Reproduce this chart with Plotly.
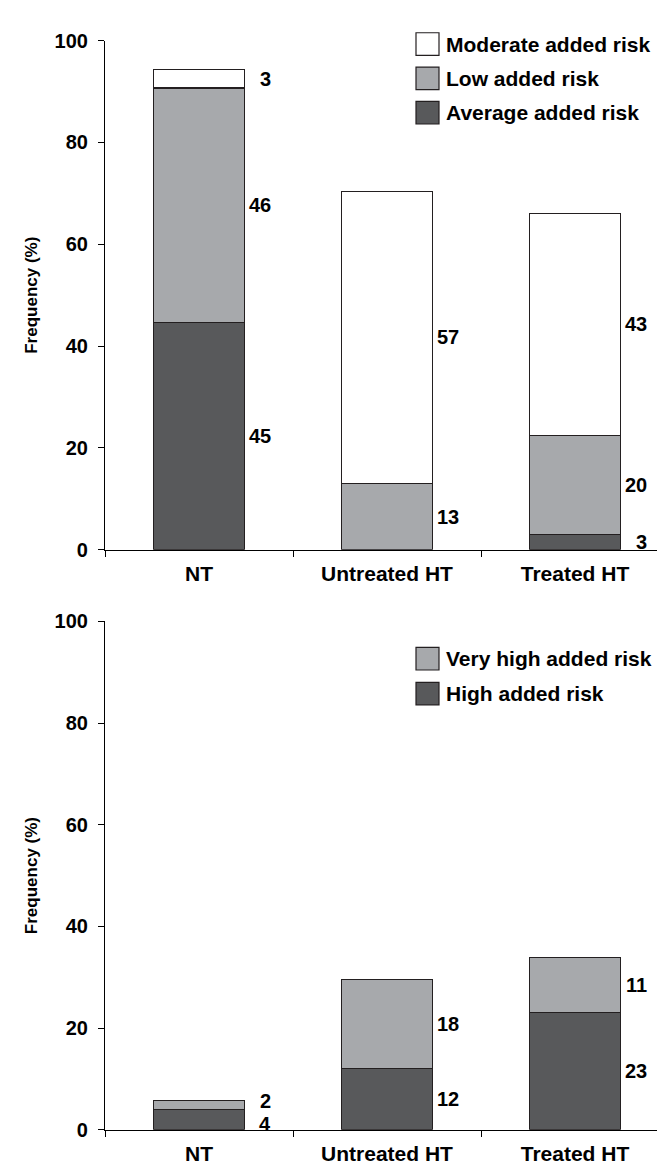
import plotly.graph_objects as go

categories = ["NT", "Untreated HT", "Treated HT"]

# Top panel (stacked, %)
top_average = [44.6, None, 3.0]
top_low = [46.1, 13.0, 19.5]
top_moderate = [3.6, 57.4, 43.6]
top_average_lbl = ["45", "", "3"]
top_low_lbl = ["46", "13", "20"]
top_moderate_lbl = ["3", "57", "43"]

# Bottom panel (stacked, %)
bot_high = [4.0, 12.0, 23.0]
bot_very_high = [1.8, 17.6, 10.9]
bot_high_lbl = ["4", "12", "23"]
bot_very_high_lbl = ["2", "18", "11"]

yticks = [0, 20, 40, 60, 80, 100]

W, H = 665, 1169
DARK = "#58595b"
LIGHT = "#a7a9ac"
WHITE = "#ffffff"
EDGE = "#231f20"
FONT = "Liberation Sans"
BW = 0.48

def px(x):
    return x / W

def py(y):
    return 1 - y / H

fig = go.Figure()

def add_bar(vals, color, name, xa, ya):
    fig.add_trace(go.Bar(
        x=categories, y=vals, name=name, marker=dict(color=color, line=dict(color=EDGE, width=1.2)),
        width=BW, xaxis=xa, yaxis=ya, showlegend=False, hoverinfo="skip"))

add_bar(top_average, DARK, "Average added risk", "x", "y")
add_bar(top_low, LIGHT, "Low added risk", "x", "y")
add_bar(top_moderate, WHITE, "Moderate added risk", "x", "y")
add_bar(bot_high, DARK, "High added risk", "x2", "y2")
add_bar(bot_very_high, LIGHT, "Very high added risk", "x2", "y2")

annotations = []

def seg_labels(stack, labels_list, xref, yref, yshifts=None):
    base = [0.0] * len(categories)
    for si, (vals, labs) in enumerate(zip(stack, labels_list)):
        for i, (v, lab) in enumerate(zip(vals, labs)):
            if v is None:
                continue
            mid = base[i] + v / 2
            base[i] += v
            if lab:
                ys = 0
                if yshifts:
                    ys = yshifts.get((si, i), 0)
                annotations.append(dict(
                    x=i + BW / 2, y=mid, xref=xref, yref=yref, text=f"<b>{lab}</b>", showarrow=False,
                    xanchor="right", yanchor="middle", xshift=29, yshift=ys,
                    font=dict(family=FONT, size=20, color="#000000")))

seg_labels([top_average, top_low, top_moderate],
           [top_average_lbl, top_low_lbl, top_moderate_lbl], "x", "y")
seg_labels([bot_high, bot_very_high], [bot_high_lbl, bot_very_high_lbl], "x2", "y2",
           yshifts={(0, 0): -4, (1, 0): 4})

# custom legends
shapes = []
def legend(items, x0, y_centers):
    for (name, color), yc in zip(items, y_centers):
        shapes.append(dict(type="rect", xref="paper", yref="paper",
                           x0=px(x0), x1=px(x0 + 23), y0=py(yc + 11.5), y1=py(yc - 11.5),
                           fillcolor=color, line=dict(color=EDGE, width=1.2)))
        annotations.append(dict(x=px(x0 + 28), y=py(yc), xref="paper", yref="paper",
                                text=f"<b>{name}</b>", showarrow=False, xanchor="left", yanchor="middle",
                                font=dict(family=FONT, size=21, color="#000000")))

legend([("Moderate added risk", WHITE), ("Low added risk", LIGHT), ("Average added risk", DARK)],
       408, [25.5, 60.5, 95.5])
legend([("Very high added risk", LIGHT), ("High added risk", DARK)], 408, [652, 687.5])

xdom = [px(97), px(661)]
axis_x = dict(domain=xdom, type="category", range=[-0.5, 2.5], showline=True, linecolor="#000000",
              linewidth=1.2, ticks="outside", tickson="boundaries", ticklen=6, tickcolor="#000000",
              tickwidth=1.2, tickfont=dict(family=FONT, size=21, color="#000000"), showgrid=False,
              zeroline=False, ticklabelstandoff=5,
              tickvals=categories, ticktext=[f"<b>{c}</b>" for c in categories])
axis_y = dict(range=[0, 100], tickvals=yticks, ticktext=[f"<b>{v}</b>" for v in yticks],
              showline=True, linecolor="#000000", linewidth=1.2,
              ticks="outside", ticklen=6, tickcolor="#000000", tickwidth=1.2,
              tickfont=dict(family=FONT, size=20, color="#000000"), showgrid=False, zeroline=False,
              ticklabelstandoff=6,
              title=dict(text="<b>Frequency (%)</b>", font=dict(family=FONT, size=17, color="#000000"),
                         standoff=12))

fig.update_layout(
    width=W, height=H, margin=dict(l=0, r=0, t=0, b=0),
    paper_bgcolor="white", plot_bgcolor="white", barmode="stack",
    font=dict(family=FONT, color="#000000"),
    xaxis=dict(axis_x, anchor="y"),
    yaxis=dict(axis_y, domain=[py(541), py(22)], anchor="x"),
    xaxis2=dict(axis_x, anchor="y2"),
    yaxis2=dict(axis_y, domain=[py(1132), py(614)], anchor="x2"),
    annotations=annotations, shapes=shapes,
)

fig.write_html("out.html")
